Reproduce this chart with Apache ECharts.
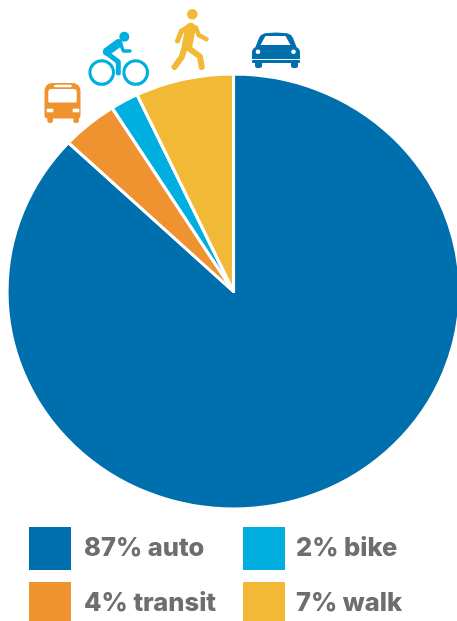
<!DOCTYPE html>
<html>
<head>
<meta charset="utf-8">
<style>html,body{margin:0;padding:0;background:#fff;overflow:hidden}#c{width:457px;height:621px}</style>
<script src="https://cdn.jsdelivr.net/npm/echarts@6/dist/echarts.min.js"></script>
</head>
<body>
<div id="c"></div>
<script>
// Commute mode share, clockwise from twelve o'clock
const modes = ['auto', 'transit', 'bike', 'walk'];
const shares = [87, 4, 2, 7];
const colors = ['#006fae', '#ef9230', '#00aee0', '#f1b935'];
const labels = modes.map((m, i) => shares[i] + '% ' + m);

const total = shares.reduce((a, b) => a + b, 0);
const CX = 233.5, CY = 291.5, RX = 226.5, RY = 217.5;

function turn(v) { return v / total * Math.PI * 2; }

function wedge(index) {
  const before = shares.slice(0, index).reduce((a, b) => a + b, 0);
  return function (params, api) {
    const start = -Math.PI / 2 + turn(before);
    return {
      type: 'sector',
      x: CX, y: CY, scaleX: RX / RY, scaleY: 1,
      shape: { cx: 0, cy: 0, r0: 0, r: RY, startAngle: start, endAngle: start + turn(api.value(0)), clockwise: true },
      style: { fill: api.visual('color'), stroke: '#fff', lineWidth: 3, lineJoin: 'round' }
    };
  };
}

function stroke(points, width, color) {
  return { type: 'polyline', shape: { points }, style: { fill: null, stroke: color, lineWidth: width, lineCap: 'round', lineJoin: 'round' }, silent: true };
}
function disc(cx, cy, r, fill) {
  return { type: 'circle', shape: { cx, cy, r }, style: { fill }, silent: true };
}
function ring(cx, cy, r, width, color) {
  return { type: 'circle', shape: { cx, cy, r }, style: { fill: null, stroke: color, lineWidth: width }, silent: true };
}
function box(x, y, width, height, fill, r) {
  return { type: 'rect', shape: { x, y, width, height, r: r || 0 }, style: { fill }, silent: true };
}
function poly(points, fill) {
  return { type: 'polygon', shape: { points }, style: { fill }, silent: true };
}

// Pictograms above the pie
const carIcon = [
  poly([[252, 60], [252, 51.5], [253, 49], [255.5, 47], [259, 38], [261, 35], [265, 33.2], [276, 32.5], [287, 33.2], [291, 35], [293, 38], [296.5, 47], [299, 49], [300, 51.5], [300, 60]], colors[0]),
  box(255, 61, 7, 7, colors[0], 2.5), box(291, 61, 7, 7, colors[0], 2.5),
  box(252, 60, 48, 3, colors[0], 1),
  poly([[260.5, 45], [290.5, 45], [285.5, 36], [265.5, 36]], '#fff'),
  disc(258, 51.7, 2.3, '#fff'), disc(293.5, 51.7, 2.3, '#fff'),
  box(252, 59, 48, 1, '#fff')
];
const busIcon = [
  box(44.5, 83, 36, 35.5, colors[1], [8, 8, 3, 3]),
  box(47.3, 115, 5.6, 8, colors[1], 2.5), box(73.3, 115, 5.7, 8, colors[1], 2.5),
  box(48.3, 89, 28.4, 13.5, '#fff', [3, 3, 1, 1]),
  box(54, 84.7, 17.7, 2.6, '#fff', 1),
  box(46.7, 108.7, 6.6, 3.6, '#fff'), box(72.7, 108.7, 6.6, 3.6, '#fff')
];
const bikeIcon = [
  ring(101.7, 72.5, 11.8, 3, colors[2]), ring(135.7, 72.5, 11.8, 3, colors[2]),
  disc(124.3, 36.7, 5, colors[2]),
  stroke([[107, 51.7], [118.3, 43.3]], 8.5, colors[2]),
  stroke([[120, 42], [123.3, 51], [130, 51]], 3.5, colors[2]),
  stroke([[108.3, 54.3], [118.3, 61.7], [118.3, 73]], 5, colors[2])
];
const walkIcon = [
  disc(192.3, 14.3, 5.3, colors[3]),
  stroke([[190.5, 28], [187, 46]], 10.5, colors[3]),
  stroke([[190, 26], [181.5, 31], [177.5, 41]], 5, colors[3]),
  stroke([[196, 27.5], [198.5, 35], [206.5, 39.3]], 4.5, colors[3]),
  stroke([[184.5, 48], [181.7, 57], [174.5, 67]], 6, colors[3]),
  stroke([[186.7, 46.7], [200, 56.7], [201.7, 67]], 6, colors[3])
];

function legendColumn(left, top, gap, data) {
  return { left, top, height: 140, orient: 'vertical', padding: 0, itemWidth: 42, itemHeight: 43, itemGap: 12,
    icon: 'rect', selectedMode: false, data,
    textStyle: { color: '#6d6e70', fontFamily: 'Inter', fontWeight: 800, fontSize: 25.5, padding: [0, 0, 0, gap] } };
}

const chart = echarts.init(document.getElementById('c'), null, { renderer: 'canvas' });
chart.setOption({
  animation: false,
  backgroundColor: '#fff',
  tooltip: { show: false },
  legend: [
    legendColumn(29, 527, 8, [labels[0], labels[1]]),
    legendColumn(243, 527, 6, [labels[2], labels[3]])
  ],
  series: modes.map((m, i) => ({
    type: 'custom',
    name: labels[i],
    coordinateSystem: 'none',
    itemStyle: { color: colors[i] },
    data: [[shares[i]]],
    renderItem: wedge(i)
  })),
  graphic: { elements: [].concat(carIcon, busIcon, bikeIcon, walkIcon) }
});
</script>
</body>
</html>
